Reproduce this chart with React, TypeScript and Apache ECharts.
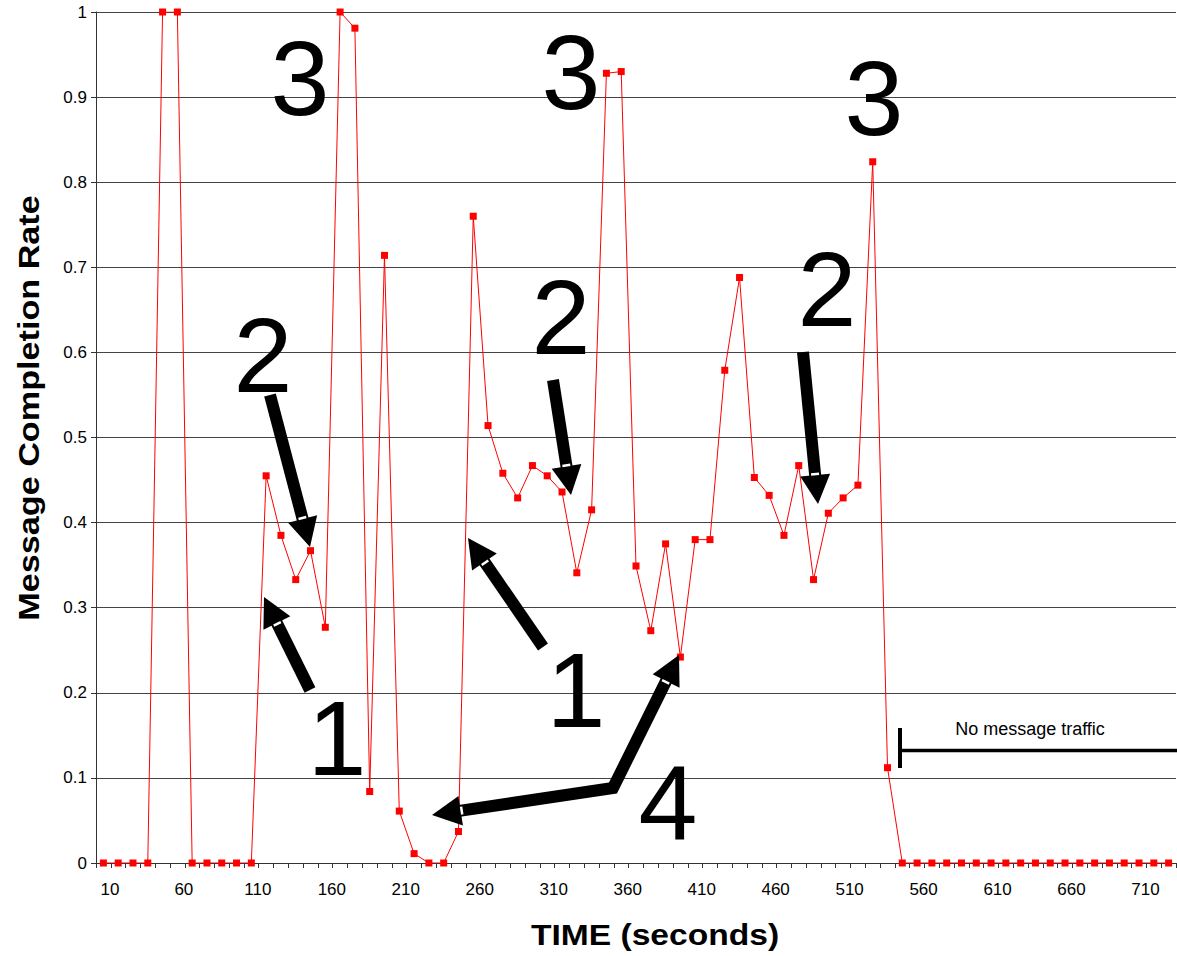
import React, { useEffect, useRef } from 'react';
import * as echarts from 'echarts';

// TIME (seconds) categories
const timeCategories = [
  '10', '20', '30', '40', '50', '60', '70', '80', '90', '100',
  '110', '120', '130', '140', '150', '160', '170', '180', '190', '200',
  '210', '220', '230', '240', '250', '260', '270', '280', '290', '300',
  '310', '320', '330', '340', '350', '360', '370', '380', '390', '400',
  '410', '420', '430', '440', '450', '460', '470', '480', '490', '500',
  '510', '520', '530', '540', '550', '560', '570', '580', '590', '600',
  '610', '620', '630', '640', '650', '660', '670', '680', '690', '700',
  '710', '720', '730',
];

// Message completion rate per time step
const completionRate = [
  0, 0, 0, 0, 1, 1, 0, 0, 0, 0,
  0, 0.455, 0.385, 0.333, 0.367, 0.277, 1.0, 0.981, 0.084, 0.714,
  0.061, 0.011, 0, 0, 0.037, 0.760, 0.514, 0.458, 0.429, 0.467,
  0.455, 0.436, 0.341, 0.415, 0.928, 0.930, 0.349, 0.273, 0.375, 0.242,
  0.380, 0.380, 0.579, 0.688, 0.453, 0.432, 0.385, 0.467, 0.333, 0.411,
  0.429, 0.444, 0.824, 0.112, 0, 0, 0, 0, 0, 0,
  0, 0, 0, 0, 0, 0, 0, 0, 0, 0,
  0, 0, 0,
];

// Annotation labels (big numerals)
const annotationLabels = [
  { text: '3', x: 300, y: 78 },
  { text: '3', x: 571, y: 72 },
  { text: '3', x: 874, y: 98 },
  { text: '2', x: 263, y: 355 },
  { text: '2', x: 561, y: 317 },
  { text: '2', x: 827, y: 289 },
  { text: '1', x: 337, y: 738 },
  { text: '1', x: 576, y: 690 },
  { text: '4', x: 668, y: 803 },
];

// Arrow paths: polyline points; heads at start and/or end
const arrowPaths = [
  { pts: [[270, 395], [310, 547]], headStart: false, headEnd: true },
  { pts: [[310, 690], [264, 597]], headStart: false, headEnd: true },
  { pts: [[543, 647], [468, 538]], headStart: false, headEnd: true },
  { pts: [[553, 380], [571, 495]], headStart: false, headEnd: true },
  { pts: [[803, 352], [818, 504]], headStart: false, headEnd: true },
  { pts: [[432, 815], [613, 788], [679, 655]], headStart: true, headEnd: true },
];

const FONT = "'Liberation Sans', Arial, Helvetica, sans-serif";

function buildArrow(a: { pts: number[][]; headStart: boolean; headEnd: boolean }) {
  const HEAD_LEN = 29;
  const HEAD_W = 30;
  const els: any[] = [];
  const pts = a.pts.map((p) => [p[0], p[1]]);
  const heads: any[] = [];
  const makeHead = (tip: number[], from: number[]) => {
    const dx = tip[0] - from[0];
    const dy = tip[1] - from[1];
    const L = Math.sqrt(dx * dx + dy * dy);
    const ux = dx / L;
    const uy = dy / L;
    const nx = -uy;
    const ny = ux;
    const bx = tip[0] - ux * HEAD_LEN;
    const by = tip[1] - uy * HEAD_LEN;
    heads.push({
      type: 'polygon',
      z: 100,
      shape: {
        points: [
          [tip[0], tip[1]],
          [bx + (nx * HEAD_W) / 2, by + (ny * HEAD_W) / 2],
          [bx - (nx * HEAD_W) / 2, by - (ny * HEAD_W) / 2],
        ],
      },
      style: { fill: '#000' },
    });
    heads.push({
      type: 'line',
      z: 101,
      shape: { x1: bx + nx * 4 - ux * 1, y1: by + ny * 4 - uy * 1, x2: bx - nx * 4 - ux * 1, y2: by - ny * 4 - uy * 1 },
      style: { stroke: '#fff', lineWidth: 2.5 },
    });
    return [tip[0] - ux * (HEAD_LEN - 3), tip[1] - uy * (HEAD_LEN - 3)];
  };
  if (a.headEnd) {
    const n = pts.length;
    pts[n - 1] = makeHead(a.pts[n - 1], a.pts[n - 2]);
  }
  if (a.headStart) {
    pts[0] = makeHead(a.pts[0], a.pts[1]);
  }
  els.push({
    type: 'polyline',
    z: 99,
    shape: { points: pts },
    style: { stroke: '#000', lineWidth: 12, fill: null, lineJoin: 'miter', lineCap: 'butt' },
  });
  return els.concat(heads);
}

export default function App() {
  const ref = useRef<HTMLDivElement>(null);

  useEffect(() => {
    if (!ref.current) return;
    const chart = echarts.init(ref.current, null, { renderer: 'svg' });

    const graphics: any[] = [];
    annotationLabels.forEach((l) => {
      graphics.push({
        type: 'text',
        z: 100,
        x: l.x,
        y: l.y,
        style: {
          text: l.text,
          fontSize: 106,
          fontFamily: FONT,
          fill: '#000',
          align: 'center',
          verticalAlign: 'middle',
        },
      });
    });
    arrowPaths.forEach((a) => {
      buildArrow(a).forEach((e) => graphics.push(e));
    });
    // "No message traffic" marker
    graphics.push({
      type: 'line',
      z: 100,
      shape: { x1: 900, y1: 728, x2: 900, y2: 768 },
      style: { stroke: '#000', lineWidth: 4 },
    });
    graphics.push({
      type: 'line',
      z: 100,
      shape: { x1: 900, y1: 750.5, x2: 1177, y2: 750.5 },
      style: { stroke: '#000', lineWidth: 3.5 },
    });
    graphics.push({
      type: 'text',
      z: 100,
      x: 1030,
      y: 729,
      style: {
        text: 'No message traffic',
        fontSize: 18,
        fontFamily: FONT,
        fill: '#000',
        align: 'center',
        verticalAlign: 'middle',
      },
    });
    // Axis titles
    graphics.push({
      type: 'text',
      z: 100,
      x: 655,
      y: 935,
      scaleX: 1.12,
      style: {
        text: 'TIME (seconds)',
        fontSize: 30,
        fontWeight: 'bold',
        fontFamily: FONT,
        fill: '#000',
        align: 'center',
        verticalAlign: 'middle',
      },
    });
    graphics.push({
      type: 'text',
      z: 100,
      x: 29,
      y: 408,
      rotation: Math.PI / 2,
      scaleX: 1.14,
      style: {
        text: 'Message Completion Rate',
        fontSize: 30,
        fontWeight: 'bold',
        fontFamily: FONT,
        fill: '#000',
        align: 'center',
        verticalAlign: 'middle',
      },
    });

    chart.setOption({
      animation: false,
      backgroundColor: '#fff',
      textStyle: { fontFamily: FONT },
      grid: { left: 96, right: 1, top: 12, bottom: 93, containLabel: false },
      xAxis: {
        type: 'category',
        data: timeCategories,
        boundaryGap: true,
        axisLine: { show: true, lineStyle: { color: '#333', width: 1 } },
        axisTick: { show: true, interval: 0, length: 5, lineStyle: { color: '#333' } },
        axisLabel: {
          interval: 4,
          fontSize: 17,
          color: '#000',
          margin: 18,
          padding: [0, 0, 0, 13],
          fontFamily: FONT,
        },
        splitLine: { show: false },
      },
      yAxis: {
        type: 'value',
        min: 0,
        max: 1,
        interval: 0.1,
        axisLine: { show: true, lineStyle: { color: '#333', width: 1 } },
        axisTick: { show: true, length: 5, lineStyle: { color: '#333' } },
        axisLabel: { fontSize: 17, color: '#000', margin: 9, fontFamily: FONT },
        splitLine: { show: true, lineStyle: { color: '#444', width: 1 } },
      },
      series: [
        {
          type: 'line',
          data: completionRate,
          symbol: 'rect',
          symbolSize: 7,
          showSymbol: true,
          lineStyle: { color: '#ff0000', width: 1 },
          itemStyle: { color: '#ff0000' },
        },
      ],
      graphic: graphics,
    });

    return () => chart.dispose();
  }, []);

  return (
    <div
      ref={ref}
      style={{ position: 'fixed', left: 0, top: 0, width: 1177, height: 956, background: '#fff' }}
    />
  );
}
